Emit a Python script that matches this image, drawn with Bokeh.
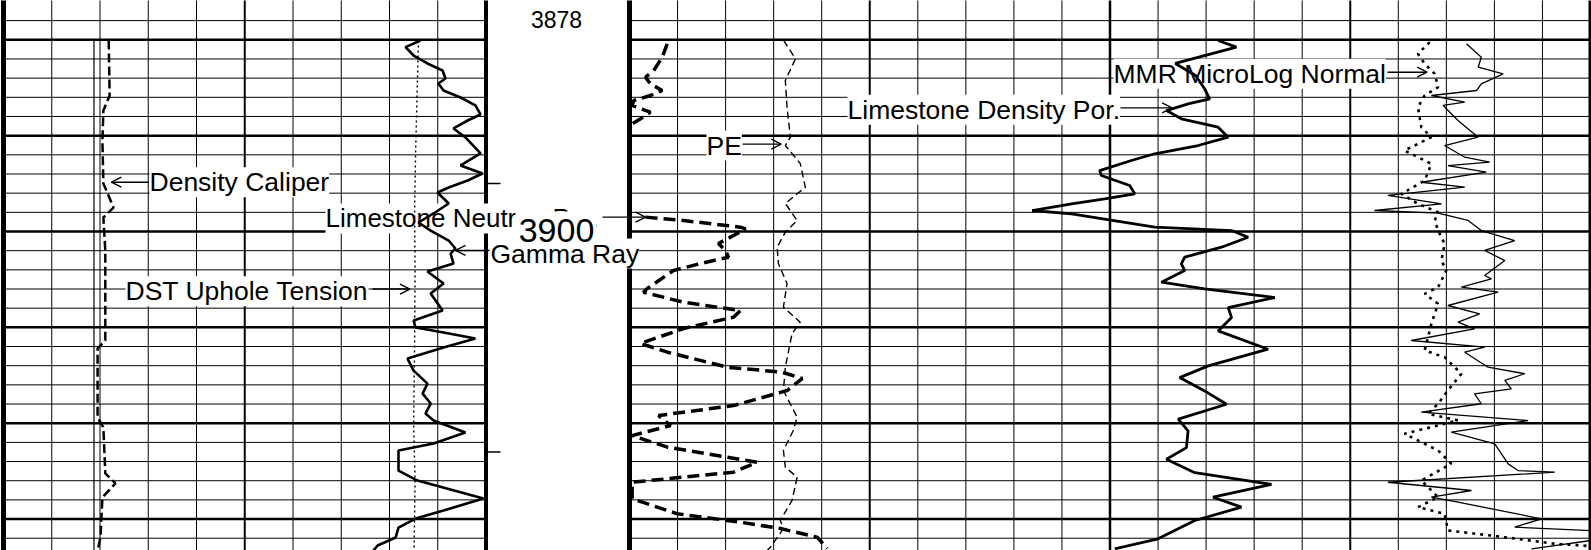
import numpy as np
from bokeh.plotting import figure
from bokeh.models import Range1d, Label, Arrow, OpenHead, BoxAnnotation
from bokeh.embed import file_html
from bokeh.resources import INLINE

# ---------------- data (depth in ft, curve values in their units) ----------------
GR_DEPTH = [3880.07, 3880.77, 3881.64, 3882.47, 3883.2, 3884.04, 3884.56, 3885.29, 3886.02, 3886.85,
            3887.79, 3888.42, 3889.25, 3890.19, 3891.86, 3893.11, 3893.95, 3894.68, 3895.41, 3895.93,
            3897.08, 3898.12, 3899.06, 3899.9, 3900.94, 3901.77, 3902.3, 3903.34, 3904.17, 3905.43,
            3906.47, 3908.24, 3909.29, 3910.02, 3910.54, 3911.17, 3912.11, 3913.26, 3914.51, 3915.87,
            3916.91, 3917.95, 3918.99, 3919.72, 3920.97, 3922.12, 3922.85, 3924.94, 3925.98, 3927.86,
            3929.11, 3929.95, 3930.89, 3931.93, 3932.76, 3933.28]
GR = [129.6, 125.0, 127.5, 131.8, 136.5, 137.4, 135.2, 136.8, 142.1, 146.7,
      148.3, 144.3, 139.9, 143.6, 148.3, 142.1, 148.9, 144.3, 138.4, 134.9,
      138.4, 133.7, 129.0, 132.8, 138.4, 140.5, 139.0, 139.9, 131.8, 136.8,
      132.8, 136.5, 127.5, 128.1, 136.8, 146.7, 136.8, 125.6, 127.5, 131.8,
      130.3, 132.8, 131.2, 133.7, 143.6, 133.7, 122.8, 122.8, 128.7, 149.2,
      136.8, 128.1, 122.8, 121.9, 116.3, 115.0]

CAL_DEPTH = [3880.07, 3885.81, 3887.38, 3890.5, 3894.99, 3897.5, 3898.54, 3901.98, 3911.37, 3912.2,
             3919.4, 3920.44, 3925.24, 3926.28, 3927.74, 3931.91, 3933.28]
CAL = [8.18, 8.20, 8.07, 8.05, 8.07, 8.28, 8.07, 8.11, 8.11, 7.95,
       7.95, 8.07, 8.11, 8.32, 8.05, 8.01, 7.95]

BS_DEPTH = [3880.0, 3933.3]
BS = [7.875, 7.875]

TENS_DEPTH = [3880.07, 3886.0, 3892.0, 3898.0, 3904.0, 3912.0, 3920.0, 3926.0, 3933.28]
TENS = [8600, 8570, 8540, 8520, 8530, 8520, 8500, 8530, 8510]

NPHI_DEPTH = [3880.42, 3881.82, 3883.2, 3883.9, 3884.59, 3885.29, 3885.81, 3886.33, 3886.85, 3887.55,
              3888.24, 3888.76, 3889.0, 3893.0, 3898.5, 3898.85, 3899.55, 3899.72, 3900.42, 3901.25,
              3901.98, 3902.68, 3903.34, 3904.07, 3905.95, 3906.33, 3907.38, 3908.24, 3908.94, 3910.12,
              3911.68, 3912.59, 3914.16, 3914.68, 3915.34, 3916.59, 3918.16, 3919.2, 3920.24, 3921.29,
              3922.5, 3924.07, 3925.11, 3926.16, 3927.89, 3929.45, 3930.33, 3930.99, 3931.89, 3933.07]
NPHI = [28.43, 28.64, 28.99, 29.33, 29.13, 28.64, 29.13, 29.82, 29.89, 29.13,
        29.54, 29.89, 30.0, np.nan, 29.33, 27.75, 25.38, 25.17, 25.67, 26.3,
        26.0, 25.88, 27.04, 28.17, 29.26, 29.42, 27.75, 25.38, 25.67, 27.75,
        29.54, 28.42, 25.92, 23.64, 22.81, 23.44, 25.67, 28.79, 28.29, 29.89,
        28.42, 24.69, 25.67, 29.89, 29.89, 28.01, 25.38, 23.72, 22.19, 21.77]

PE_DEPTH = [3880.07, 3881.98, 3884.25, 3887.03, 3890.16, 3891.03, 3892.9, 3895.38, 3897.08, 3898.85,
            3900.07, 3901.64, 3903.34, 3905.43, 3907.9, 3909.46, 3910.64, 3914.16, 3916.59, 3919.37,
            3920.76, 3922.85, 3924.59, 3925.63, 3928.06, 3930.15, 3930.99, 3932.94, 3933.28]
PE = [6.41, 6.9, 6.48, 6.55, 6.69, 6.48, 7.1, 7.31, 6.48, 6.97,
      6.48, 6.14, 6.19, 6.55, 6.4, 7.1, 6.76, 6.48, 6.4, 6.97,
      6.81, 6.4, 6.48, 6.97, 6.76, 6.27, 6.4, 5.86, 5.72]

DPHI_DEPTH = [3880.07, 3880.77, 3882.47, 3883.72, 3885.08, 3886.16, 3886.68, 3887.38, 3888.24, 3889.12,
              3890.16, 3891.03, 3891.89, 3892.59, 3893.64, 3894.16, 3895.2, 3896.07, 3896.59, 3897.11,
              3897.81, 3898.15, 3899.55, 3899.9, 3900.6, 3901.64, 3902.68, 3903.37, 3904.07, 3905.29,
              3905.98, 3906.89, 3907.94, 3908.98, 3910.37, 3912.28, 3914.02, 3915.24, 3916.63, 3918.02,
              3919.58, 3920.8, 3922.55, 3923.76, 3925.16, 3926.37, 3927.72, 3928.76, 3930.15, 3932.06,
              3933.1]
DPHI = [5.5, 4.74, 7.28, 6.44, 6.07, 5.85, 6.75, 7.65, 7.03, 5.5,
        5.08, 6.33, 8.14, 9.11, 10.43, 10.36, 9.18, 8.97, 10.22, 11.6,
        13.24, 11.6, 8.14, 4.94, 4.25, 5.36, 6.89, 7.03, 6.89, 7.86,
        6.06, 3.14, 5.08, 4.94, 5.5, 3.42, 5.91, 7.1, 6.06, 5.15,
        7.16, 6.75, 6.82, 7.65, 6.47, 3.28, 5.71, 4.53, 6.47, 8.0,
        9.8]

MNOR_DEPTH = [3880.25, 3881.46, 3882.5, 3883.55, 3884.95, 3885.81, 3887.03, 3889.12, 3890.16, 3891.55,
              3892.59, 3892.94, 3894.68, 3896.07, 3897.11, 3897.99, 3898.85, 3899.9, 3901.28, 3903.03,
              3904.07, 3905.81, 3906.5, 3907.54, 3909.63, 3912.41, 3913.11, 3914.84, 3916.58, 3917.97,
              3919.01, 3919.71, 3921.1, 3922.84, 3924.23, 3925.97, 3927.72, 3928.76, 3929.45, 3931.19,
              3931.89, 3932.58, 3932.9]
MNOR = [13.3, 12.81, 13.09, 13.51, 13.65, 13.09, 12.81, 12.95, 13.37, 12.25,
        13.09, 13.37, 13.09, 12.12, 12.81, 13.65, 13.51, 13.65, 13.92, 13.79,
        13.99, 13.65, 13.09, 13.65, 13.37, 13.09, 13.92, 14.62, 14.06, 13.65,
        13.23, 14.48, 12.25, 13.65, 14.2, 12.95, 13.65, 12.81, 13.92, 14.06,
        16.43, 18.51, 20.5]

MINV_DEPTH = [3880.42, 3881.82, 3882.86, 3883.55, 3884.59, 3885.29, 3885.81, 3886.51, 3886.85, 3888.42,
              3890.16, 3891.03, 3892.25, 3892.77, 3893.12, 3893.81, 3894.86, 3895.38, 3896.24, 3897.11,
              3897.81, 3898.09, 3898.85, 3899.9, 3900.94, 3901.98, 3903.03, 3904.59, 3904.94, 3905.81,
              3906.33, 3907.72, 3908.59, 3909.46, 3910.15, 3911.37, 3912.07, 3912.59, 3914.16, 3914.84,
              3915.54, 3916.41, 3916.93, 3917.97, 3918.85, 3919.72, 3920.94, 3922.15, 3924.24, 3924.94,
              3925.11, 3926.16, 3927.02, 3927.72, 3928.24, 3929.97, 3930.85, 3931.37, 3931.9, 3933.1]
MINV = [14.83, 15.45, 15.32, 16.36, 15.45, 15.25, 13.37, 14.76, 13.86, 14.48,
        15.32, 13.92, 14.76, 15.8, 14.06, 15.66, 12.95, 14.76, 11.56, 13.79,
        11.0, 13.65, 14.9, 15.45, 16.84, 15.59, 16.43, 15.59, 15.87, 14.62,
        16.15, 14.06, 15.38, 14.48, 15.17, 12.53, 15.59, 14.76, 15.73, 17.26,
        16.43, 16.7, 15.17, 15.45, 12.95, 17.4, 14.2, 16.01, 16.57, 16.98,
        18.51, 11.56, 15.04, 13.37, 14.48, 17.96, 16.84, 21.5, 21.0, 17.54]

GRID_MINOR_FT = 2
GRID_MAJOR_FT = 10
DEPTH_TICKS = [3895, 3923]
DEPTH_LABELS = [("3878", 3877.9), ("3900", 3899.9)]

# ---------------- layout ----------------
W, H = 1591, 550
TOP_D, BOT_D = 3875.9, 3933.28
T1 = (3.0, 485.5)
T2 = (629.0, 1110.0)
T3 = (1110.0, 1590.0)
T23 = (629.0, 1590.0)

p = figure(width=W, height=H, output_backend="svg", toolbar_location=None,
           x_range=Range1d(0, W), y_range=Range1d(BOT_D, TOP_D),
           x_axis_location=None, y_axis_location=None, min_border=0,
           outline_line_color=None, background_fill_color="white",
           border_fill_color="white")
p.grid.visible = False


def scale_range(a, b, span):
    L, R = span
    k = (b - a) / (R - L)
    return Range1d(start=a - L * k, end=a + (W - L) * k)


p.extra_x_ranges = {
    "t1": scale_range(0, 10, T1),
    "t23": scale_range(0, 20, T23),
    "gr": scale_range(0, 150, T1),
    "cal": scale_range(6, 16, T1),
    "tens": scale_range(0, 10000, T1),
    "por": scale_range(30, -10, T23),
    "pe": scale_range(0, 20, T2),
    "ml": scale_range(0, 20, T3),
}


def px_of(rname, v):
    r = p.extra_x_ranges[rname]
    return (v - r.start) / (r.end - r.start) * W


# ---------------- grid ----------------
depths = np.arange(3878, 3934, GRID_MINOR_FT)
thin_d = [float(d) for d in depths if d % GRID_MAJOR_FT]
thick_d = [float(d) for d in depths if d % GRID_MAJOR_FT == 0]
for tr, nd in (("t1", 10), ("t23", 20)):
    p.segment(x0=0, x1=nd, y0=thin_d, y1=thin_d, x_range_name=tr,
              line_color="black", line_width=1, level="image")
    p.segment(x0=0, x1=nd, y0=thick_d, y1=thick_d, x_range_name=tr,
              line_color="black", line_width=2.5, level="image")

yt, yb = TOP_D - 1, BOT_D + 1
thin_v1 = [1, 2, 3, 4, 6, 7, 8, 9]
p.segment(x0=thin_v1, x1=thin_v1, y0=yt, y1=yb, x_range_name="t1",
          line_color="black", line_width=1, level="image")
p.segment(x0=[5], x1=[5], y0=yt, y1=yb, x_range_name="t1",
          line_color="black", line_width=2, level="image")
p.segment(x0=[0], x1=[0], y0=yt, y1=yb, x_range_name="t1",
          line_color="black", line_width=5, level="image")
p.segment(x0=[10], x1=[10], y0=yt, y1=yb, x_range_name="t1",
          line_color="black", line_width=4, level="image")
thin_v23 = [i for i in range(1, 20) if i % 5]
p.segment(x0=thin_v23, x1=thin_v23, y0=yt, y1=yb, x_range_name="t23",
          line_color="black", line_width=1, level="image")
p.segment(x0=[5, 15], x1=[5, 15], y0=yt, y1=yb, x_range_name="t23",
          line_color="black", line_width=2, level="image")
p.segment(x0=[10], x1=[10], y0=yt, y1=yb, x_range_name="t23",
          line_color="black", line_width=2.5, level="image")
p.segment(x0=[0], x1=[0], y0=yt, y1=yb, x_range_name="t23",
          line_color="black", line_width=5, level="image")
p.segment(x0=[20], x1=[20], y0=yt, y1=yb, x_range_name="t23",
          line_color="black", line_width=4, level="image")
p.segment(x0=10, x1=10.3, y0=DEPTH_TICKS, y1=DEPTH_TICKS, x_range_name="t1",
          line_color="black", line_width=1.5, level="image")

# ---------------- labels ----------------
FONT = "Liberation Sans"


def add_label(text, x, depth, size="26.5px", align="left", level="underlay", bg="white"):
    lab = Label(x=x, y=depth, text=text, text_font=FONT, text_font_size=size,
                text_baseline="middle", text_align=align, text_color="black",
                background_fill_color=bg, level=level)
    p.add_layout(lab)


add_label("Density Caliper", 149, 3894.86)
add_label("DST Uphole Tension", 125, 3906.23)
add_label("Limestone Neutron Por.", 325, 3898.64, size="26px")
add_label("Gamma Ray", 490, 3902.3)
add_label("PE", 706, 3891.03)
add_label("Limestone Density Por.", 847, 3887.3)
add_label("MMR MicroLog Normal", 1113, 3883.55)

p.add_layout(BoxAnnotation(left=515, right=596, top=3897.92, bottom=3901.2,
                           fill_color="white", fill_alpha=1, line_color=None,
                           level="annotation"))
for txt, d in DEPTH_LABELS:
    add_label(txt, 556, d,
              size="34px" if txt == "3900" else "23px",
              align="center", level="annotation", bg=None)

# ---------------- curves ----------------
p.line(BS, BS_DEPTH, x_range_name="cal", line_color="black", line_width=1.2)
p.line(CAL, CAL_DEPTH, x_range_name="cal", line_color="black", line_width=2.5,
       line_dash="9 4")
p.line(TENS, TENS_DEPTH, x_range_name="tens", line_color="black", line_width=1.4,
       line_dash="2 3")
p.line(GR, GR_DEPTH, x_range_name="gr", line_color="black", line_width=2.6)
p.line(NPHI, NPHI_DEPTH, x_range_name="por", line_color="black", line_width=3.5,
       line_dash="12 6")
p.line(PE, PE_DEPTH, x_range_name="pe", line_color="black", line_width=1.4,
       line_dash="7 4")
p.line(DPHI, DPHI_DEPTH, x_range_name="por", line_color="black", line_width=2.8)
p.line(MNOR, MNOR_DEPTH, x_range_name="ml", line_color="black", line_width=2.6,
       line_dash="3 5")
p.line(MINV, MINV_DEPTH, x_range_name="ml", line_color="black", line_width=1.3)


# ---------------- arrows ----------------
def add_arrow(x_start, depth, rname, xs, ys, gap):
    v = float(np.interp(depth, [d for d, x in zip(ys, xs) if x == x],
                        [x for x in xs if x == x]))
    x_end = px_of(rname, v) + gap
    p.add_layout(Arrow(x_start=x_start, y_start=depth, x_end=x_end, y_end=depth,
                       line_color="black", line_width=1.4,
                       end=OpenHead(size=10, line_color="black", line_width=1.4)))


add_arrow(148, 3894.86, "cal", CAL, CAL_DEPTH, 8)
add_arrow(372, 3906.0, "tens", TENS, TENS_DEPTH, -5)
add_arrow(602, 3898.5, "por", NPHI, NPHI_DEPTH, 0)
add_arrow(489, 3901.98, "gr", GR, GR_DEPTH, 2)
add_arrow(742, 3890.88, "pe", PE, PE_DEPTH, -5)
add_arrow(1120, 3887.1, "por", DPHI, DPHI_DEPTH, -3)
add_arrow(1387, 3883.38, "ml", MNOR, MNOR_DEPTH, -6)

open("out.html", "w").write(file_html(p, INLINE))
